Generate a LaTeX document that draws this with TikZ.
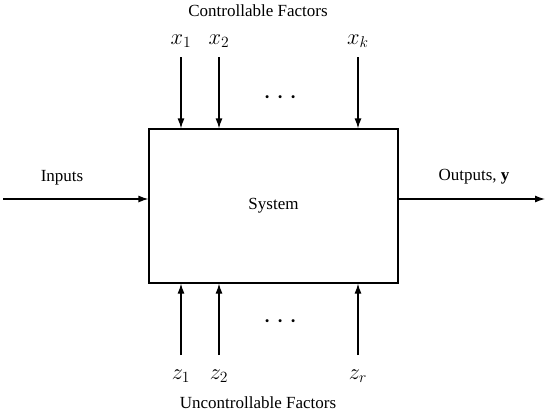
\documentclass[tikz,border=0pt]{standalone}
\usepackage{amsmath}
\usepackage{fontspec}
\setmainfont{Liberation Serif}
\usetikzlibrary{arrows.meta}

\begin{document}
\begin{tikzpicture}[x=1pt,y=-1pt,>={Latex[length=10pt,width=7pt]},
    line width=1.2pt,font=\fontsize{17}{20}\selectfont,
    varlabel/.style={scale=1.3},
    dotlabel/.style={scale=1.7}]
    \useasboundingbox (0,0) rectangle (548,416);

    \node[draw,minimum width=249pt,minimum height=154pt] (sys) at (273.5,206) {System};

    \node (ctrl) at (258,11) {Controllable Factors};
    \node (unctrl) at (258,403) {Uncontrollable Factors};

    \foreach \name/\x/\lab in {x1/181/x_1,x2/219/x_2,xk/358/x_k}{
        \node[varlabel] (\name) at (\x,41) {$\lab$};
        \coordinate (\name s) at (\x,57);
        \draw[->] (\name s) -- (\name s |- sys.north);
    }
    \foreach \name/\x/\lab in {z1/181/z_1,z2/219/z_2,zr/358/z_r}{
        \node[varlabel] (\name) at (\x,376) {$\lab$};
        \coordinate (\name s) at (\x,355);
        \draw[->] (\name s) -- (\name s |- sys.south);
    }
    \node[dotlabel] (topdots) at (283,98) {$\cdots$};
    \node[dotlabel] (botdots) at (283,322) {$\cdots$};

    \coordinate (in) at (3,199);
    \coordinate (out) at (545,199);
    \draw[->] (in) -- (in -| sys.west);
    \draw[->] (out -| sys.east) -- (out);
    \node (inputs) at (62,178) {Inputs};
    \node (outputs) at (474,177) {Outputs, $\mathbf{y}$};
\end{tikzpicture}
\end{document}
